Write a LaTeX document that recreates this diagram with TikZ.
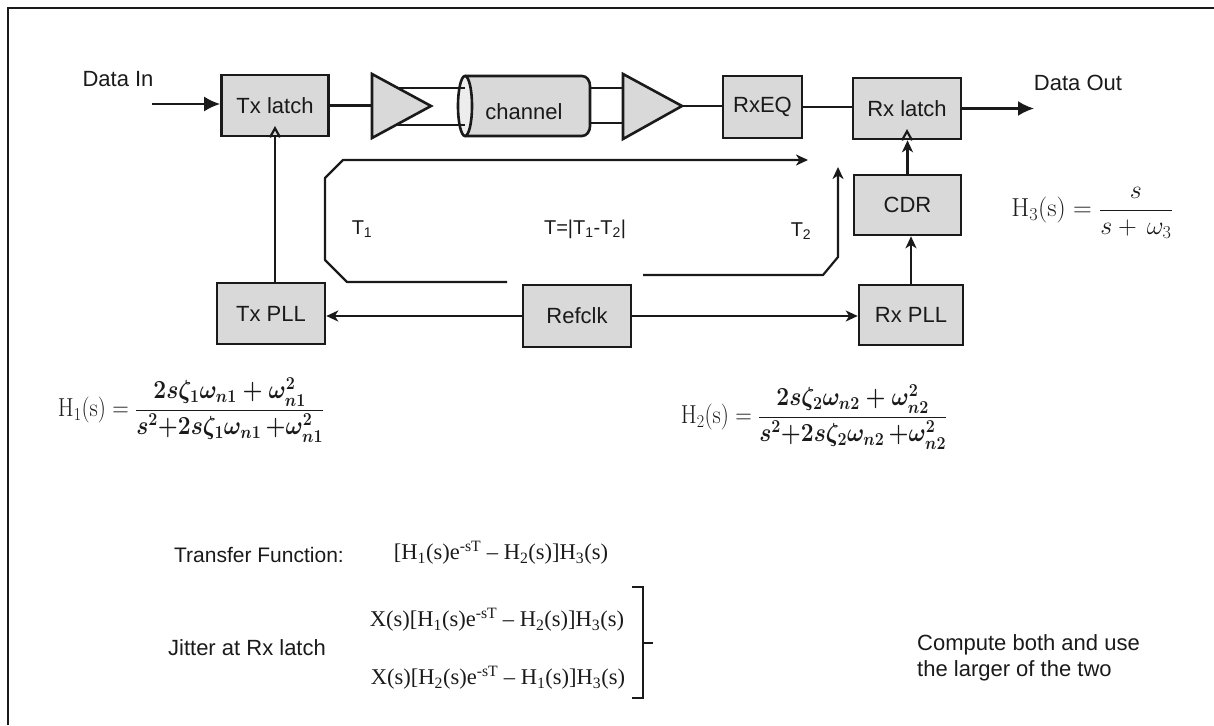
\RequirePackage{fix-cm}
\documentclass[tikz,border=0pt]{standalone}
\usepackage{amsmath}
\usepackage{graphicx}
\usepackage[no-math]{fontspec}
\setmainfont{Liberation Sans}
\newfontfamily\tnr{Liberation Serif}
\usetikzlibrary{arrows.meta}
\definecolor{boxgray}{HTML}{D9D9D9}
\definecolor{capgray}{HTML}{EDEDED}
\definecolor{linec}{HTML}{1A1A1A}
\begin{document}
\begin{tikzpicture}[x=1pt,y=-1pt,
  blk/.style={draw=linec,line width=2.6pt,fill=boxgray,inner sep=0pt,
    minimum width=107pt,minimum height=61pt,text=linec,font=\fontsize{22}{26}\selectfont},
  wire/.style={line width=2.2pt,draw=linec},
  arr/.style={wire,-{Stealth[length=12pt,width=11pt,inset=3.5pt]}},
  bigarr/.style={wire,-{Latex[length=16pt,width=15pt]}},
  lbl/.style={font=\fontsize{22}{26}\selectfont,inner sep=0pt,text=linec},
  tlbl/.style={font=\fontsize{20}{24}\selectfont,inner sep=0pt,text=linec},
  fml/.style={font=\fontsize{26}{30}\selectfont,inner sep=0pt,text=linec},
  tnrs/.style={font=\tnr\fontsize{22.5}{27}\selectfont,inner sep=0pt,text=linec},
  ampst/.style={draw=linec,line width=2.6pt,fill=boxgray,line join=miter}]
\useasboundingbox (0,0) rectangle (1214,725);
% frame
\draw[line width=2.5pt,draw=linec] (8,725) -- (8,8) -- (1214,8);

% blocks
\node[blk] (txl) at (275,105.5) {Tx latch};
\node[blk,minimum width=79pt,minimum height=62pt] (rxeq) at (762.5,107) {RxEQ};
\node[blk,minimum width=108pt] (rxl) at (907,108.5) {Rx latch};
\node[blk,minimum height=60pt] (cdr) at (907.5,205) {CDR};
\node[blk,minimum width=104pt,minimum height=60pt] (rxpll) at (911,315) {Rx PLL};
\node[blk,minimum width=108pt] (txpll) at (271,313.5) {Tx PLL};
\node[blk,minimum width=108pt,minimum height=62pt] (refclk) at (577,316) {Refclk};

% amplifiers
\coordinate (a1in) at (372,106);
\coordinate (a1out) at (431,106);
\draw[ampst] (372,74) -- (a1out) -- (372,138) -- cycle;
\coordinate (a2in) at (623,106);
\coordinate (a2out) at (682,106);
\draw[ampst] (623,74) -- (a2out) -- (623,139) -- cycle;

% channel cylinder
\draw[ampst,line join=round] (465,76) -- (582,76) to[out=0,in=90] (590,86) -- (590,126)
  to[out=-90,in=0] (582,136) -- (465,136);
\draw[ampst,fill=capgray] (465,106) ellipse [x radius=7, y radius=30];
\node[lbl] (chan) at (524,112) {channel};
\coordinate (c1a) at (398,88);  \coordinate (c1b) at (465,88);
\coordinate (c2a) at (396,125); \coordinate (c2b) at (465,125);
\coordinate (c3a) at (590,88);  \coordinate (c3b) at (623,88);
\coordinate (c4a) at (590,123); \coordinate (c4b) at (623,123);
\draw[wire] (c1a) -- (c1b);
\draw[wire] (c2a) -- (c2b);
\draw[wire] (c3a) -- (c3b);
\draw[wire] (c4a) -- (c4b);

% data path
\coordinate (din) at (152,104);
\draw[bigarr] (din) -- (din -| txl.west);
\node[lbl] (dinl) at (118,79) {Data In};
\draw[wire] (txl.east) -- (txl.east -| a1in);
\draw[wire] (a2out) -- (a2out -| rxeq.west);
\draw[wire] (rxeq.east) -- (rxeq.east -| rxl.west);
\coordinate (dout) at (1034,107);
\draw[bigarr] (rxl.east) -- (rxl.east -| dout);
\node[lbl] (doutl) at (1078,83) {Data Out};

% clock inputs
\draw[wire,line join=miter] (txl.south) ++(-5,0) -- ++(5,-9) -- ++(5,9);
\draw[wire,line join=miter] (rxl.south) ++(-5,0) -- ++(5,-9) -- ++(5,9);
\draw[wire] (txl.south) -- (txl.south |- txpll.north);
\draw[arr] (cdr.north) -- (cdr.north |- rxl.south);
\draw[arr] (rxpll.north) -- (rxpll.north |- cdr.south);

% refclk
\draw[arr] (refclk.west) -- (refclk.west -| txpll.east);
\draw[arr] (refclk.east) -- (refclk.east -| rxpll.west);

% timing paths
\coordinate (t1s) at (507,282);
\coordinate (t1e) at (808,160);
\draw[arr,line join=round] (t1s) -- (347,282) -- (325,260) -- (325,178) -- (343,160) -- (t1e);
\coordinate (t2s) at (643,275);
\coordinate (t2e) at (838,167);
\draw[arr,line join=round] (t2s) -- (823,275) -- (838,257) -- (t2e);
\node[tlbl] (t1l) at (362,229) {T\textsubscript{1}};
\node[tlbl] (tl) at (585,229) {T=|T\textsubscript{1}-T\textsubscript{2}|};
\node[tlbl] (t2l) at (801,231) {T\textsubscript{2}};

% formulas
\node[fml] (h3) at (1092,213) {$\mathrm{H}_3(\mathrm{s}) = \dfrac{s}{s+\,\omega_3}$};
\node[fml] (h1) at (191,410) {\scalebox{0.88}[1]{$\mathrm{H}_1(\mathrm{s}) = \dfrac{\boldsymbol{2s\zeta_1\omega_{n1}+\omega_{n1}^2}}{\boldsymbol{s^2{+}2s\zeta_1\omega_{n1}\,{+}\omega_{n1}^2}}$}};
\node[fml] (h2) at (814,417) {\scalebox{0.88}[1]{$\mathrm{H}_2(\mathrm{s}) = \dfrac{\boldsymbol{2s\zeta_2\omega_{n2}+\omega_{n2}^2}}{\boldsymbol{s^2{+}2s\zeta_2\omega_{n2}\,{+}\omega_{n2}^2}}$}};

\node[lbl,font=\fontsize{21}{25}\selectfont] (tfl) at (259,555) {Transfer Function:};
\node[tnrs] (tf) at (501,553) {[H\textsubscript{1}(s)e\textsuperscript{-sT} – H\textsubscript{2}(s)]H\textsubscript{3}(s)};
\node[lbl] (jit) at (247,648) {Jitter at Rx latch};
\node[tnrs] (j1) at (497,620) {X(s)[H\textsubscript{1}(s)e\textsuperscript{-sT} – H\textsubscript{2}(s)]H\textsubscript{3}(s)};
\node[tnrs] (j2) at (498,678) {X(s)[H\textsubscript{2}(s)e\textsuperscript{-sT} – H\textsubscript{1}(s)]H\textsubscript{3}(s)};
\coordinate (bt) at (643,587);
\coordinate (bb) at (643,698);
\coordinate (bm) at (643,643);
\draw[line width=1.6pt,draw=linec] ([xshift=-11pt]bt) -- (bt) -- (bb) -- ([xshift=-11pt]bb);
\draw[line width=1.6pt,draw=linec] (bm) -- ++(10,0);
\node[lbl,align=left,anchor=west] (cmp) at (917,658) {Compute both and use\\the larger of the two};
\end{tikzpicture}
\end{document}
